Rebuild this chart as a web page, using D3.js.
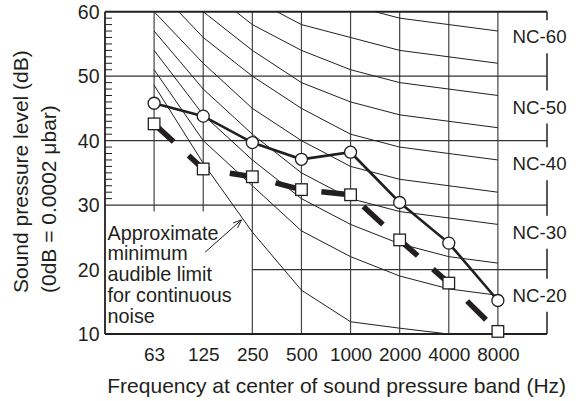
<!DOCTYPE html>
<html>
<head>
<meta charset="utf-8">
<script src="https://cdn.jsdelivr.net/npm/d3@7"></script>
<style>
html,body{margin:0;padding:0;background:#fff;}
svg{display:block;}
text{font-family:"Liberation Sans",Arial,Helvetica,sans-serif;fill:#231f20;}
</style>
</head>
<body>
<svg id="chart" width="579" height="401"></svg>
<script>
// ---- data ----
const bands = ["63","125","250","500","1000","2000","4000","8000"];
const yTicks = [10,20,30,40,50,60];
const nc20 = [51,40,33,26,22,19,17,16];
const nc25 = [54,44,37,31,27,24,22,21];
const nc30 = [57,48,41,35,31,29,28,27];
const nc35 = [60,52,45,40,36,34,33,32];
const nc40 = [64,56,50,45,41,39,38,37];
const nc45 = [67,60,54,49,46,44,43,42];
const nc50 = [71,64,58,54,51,49,48,47];
const nc55 = [74,67,62,58,56,54,53,52];
const nc60 = [77,71,67,63,61,59,58,57];
const threshold = [48.6,36.5,25.8,16.8,11.9,10.9,10.0]; // 63..4000 Hz
const measured = [45.8,43.8,39.7,37.1,38.2,30.4,24.1,15.2];   // circles
const target   = [42.6,35.6,34.4,32.4,31.6,24.6,17.9,10.4];   // squares
const ncLabels = ["NC-60","NC-50","NC-40","NC-30","NC-20"];
const ncLabelLevels = [56.1,45.2,36.4,25.8,16.0];
const noteLines = ["Approximate","minimum","audible limit","for continuous","noise"];
const yTitle1 = "Sound pressure level (dB)";
const yTitle2 = "(0dB = 0.0002 \u03bcbar)";
const xTitle = "Frequency at center of sound pressure band (Hz)";

// ---- layout ----
const svg = d3.select("#chart");
const L = 105, R = 547, T = 11.7, B = 334;
const x = d3.scaleLinear().domain([-1, 8]).range([L, R]);
const y = d3.scaleLinear().domain([10, 60]).range([B, T]);
const ink = "#231f20";

svg.append("defs").append("clipPath").attr("id","plotclip")
  .append("rect").attr("x",L).attr("y",T).attr("width",R-L).attr("height",B-T);

const g = svg.append("g");

// vertical grid lines
bands.forEach((b,i)=>{
  const y2 = (i < 2) ? y(30) + 6.5 : B;
  g.append("line").attr("x1",x(i)).attr("x2",x(i)).attr("y1",T).attr("y2",y2)
    .attr("stroke","#444").attr("stroke-width",1.2);
});
// horizontal grid lines
[20,30,40,50].forEach(v=>{
  const x1 = v === 20 ? x(2) : L;
  g.append("line").attr("x1",x1).attr("x2",R).attr("y1",y(v)).attr("y2",y(v))
    .attr("stroke","#333").attr("stroke-width",1.2);
});

// NC curves
const line = d3.line().x((d,i)=>x(i)).y(d=>y(d));
const ncCurves = [nc20,nc25,nc30,nc35,nc40,nc45,nc50,nc55,nc60];
const cg = g.append("g").attr("clip-path","url(#plotclip)");
ncCurves.forEach(c=>{
  cg.append("path").attr("d",line(c)).attr("fill","none").attr("stroke",ink).attr("stroke-width",1);
});
cg.append("path").attr("d",line(threshold)).attr("fill","none").attr("stroke",ink).attr("stroke-width",1);

// minor ticks on left axis (30..60 dB)
const minor = d3.range(31,60).filter(v=>v%10!==0);
minor.forEach(v=>{
  g.append("line").attr("x1",L).attr("x2",L+7).attr("y1",y(v)).attr("y2",y(v))
    .attr("stroke",ink).attr("stroke-width",1);
});

// frame: left, top, bottom
g.append("line").attr("x1",L).attr("x2",L).attr("y1",T).attr("y2",B).attr("stroke",ink).attr("stroke-width",1.8);
g.append("line").attr("x1",L).attr("x2",R).attr("y1",T).attr("y2",T).attr("stroke",ink).attr("stroke-width",2);
g.append("line").attr("x1",L).attr("x2",R).attr("y1",B).attr("y2",B).attr("stroke",ink).attr("stroke-width",2);

// right frame with gaps for NC labels
const gapHalf = 16.5;
const gaps = ncLabelLevels.map(v=>[y(v)-gapHalf, y(v)+gapHalf]).sort((a,b)=>a[0]-b[0]);
let cur = T;
gaps.forEach(([a,b])=>{
  g.append("line").attr("x1",R).attr("x2",R).attr("y1",cur).attr("y2",a).attr("stroke",ink).attr("stroke-width",1.5);
  cur = b;
});
g.append("line").attr("x1",R).attr("x2",R).attr("y1",cur).attr("y2",B).attr("stroke",ink).attr("stroke-width",1.5);

// NC labels
ncLabels.forEach((t,i)=>{
  g.append("text").attr("x",x(7)+14.7).attr("y",y(ncLabelLevels[i])).attr("dy","0.35em")
    .attr("font-size",18.7).text(t);
});

// target (dashed thick) line
g.append("path").attr("d",line(target)).attr("fill","none").attr("stroke",ink)
  .attr("stroke-width",5.5).attr("stroke-dasharray","26.5,20.3");
// measured (solid) line
g.append("path").attr("d",line(measured)).attr("fill","none").attr("stroke",ink)
  .attr("stroke-width",2.6);

// squares
g.selectAll("rect.sq").data(target).enter().append("rect").attr("class","sq")
  .attr("x",(d,i)=>x(i)-5.8).attr("y",d=>y(d)-5.8).attr("width",11.6).attr("height",11.6)
  .attr("fill","#fff").attr("stroke",ink).attr("stroke-width",1.3);
// circles
g.selectAll("circle.pt").data(measured).enter().append("circle").attr("class","pt")
  .attr("cx",(d,i)=>x(i)).attr("cy",d=>y(d)).attr("r",6)
  .attr("fill","#fff").attr("stroke",ink).attr("stroke-width",1.3);

// axes labels
const xAxis = d3.axisBottom(x).tickValues(d3.range(bands.length)).tickFormat(i=>bands[i]).tickSize(0).tickPadding(0);
const xa = svg.append("g").attr("transform",`translate(0,${B})`).call(xAxis);
xa.select(".domain").remove();
xa.selectAll("text").attr("font-size",19).attr("y",27).attr("dy",0)
  .attr("font-family","'Liberation Sans',Arial,sans-serif").attr("fill",ink);

const yAxis = d3.axisLeft(y).tickValues(yTicks).tickSize(0).tickPadding(0);
const ya = svg.append("g").attr("transform",`translate(${L-5.5},0)`).call(yAxis);
ya.select(".domain").remove();
ya.selectAll("text").attr("font-size",19.5).attr("dy","0.35em")
  .attr("font-family","'Liberation Sans',Arial,sans-serif").attr("fill",ink);

// axis titles
svg.append("text").attr("x",L+2.3).attr("y",392.5).attr("font-size",21).text(xTitle);
svg.append("text").attr("transform",`translate(28,293) rotate(-90)`).attr("font-size",21).text(yTitle1);
svg.append("text").attr("transform",`translate(56,293) rotate(-90)`).attr("font-size",21).text(yTitle2);

// annotation
const note = svg.append("g");
noteLines.forEach((t,i)=>{
  note.append("text").attr("x",L+2.5).attr("y",y(30)+34.5+i*20.75).attr("font-size",19.8).text(t);
});
// arrow pointing to the audible-limit curve
const tail = [x(1.04), y(22.7)], tip = [x(1.78), y(27.7)];
note.append("line").attr("x1",tail[0]).attr("y1",tail[1]).attr("x2",tip[0]).attr("y2",tip[1])
  .attr("stroke",ink).attr("stroke-width",1);
const ang = Math.atan2(tip[1]-tail[1], tip[0]-tail[0]);
[0.38,-0.38].forEach(da=>{
  note.append("line").attr("x1",tip[0]).attr("y1",tip[1])
    .attr("x2",tip[0]-9*Math.cos(ang+da)).attr("y2",tip[1]-9*Math.sin(ang+da))
    .attr("stroke",ink).attr("stroke-width",1);
});
</script>
</body>
</html>
